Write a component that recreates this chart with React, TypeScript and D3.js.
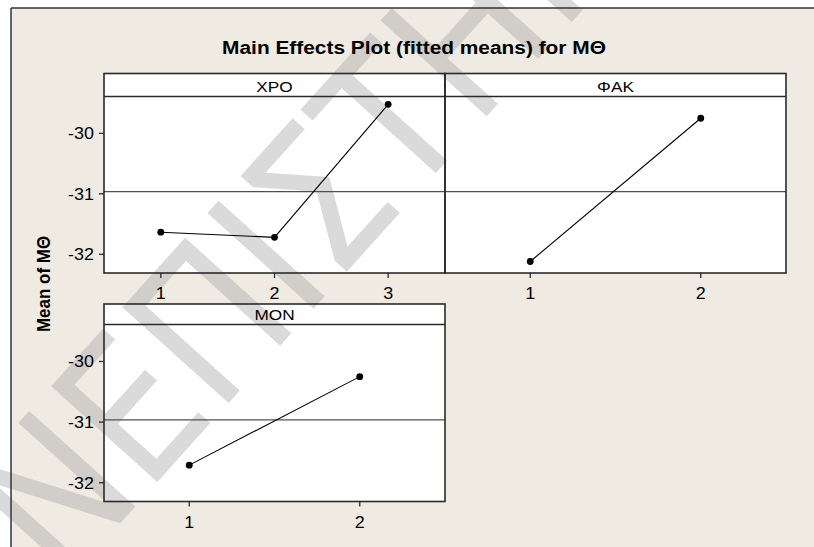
import React from "react";
import * as d3 from "d3";

const title = "Main Effects Plot (fitted means) for MΘ";
const yAxisLabel = "Mean of MΘ";
const watermark = "ΝΕΠΙΣΤΗΜΙΟ";

const xpoLevels = [1, 2, 3];
const xpoMeans = [-31.635, -31.72, -29.52];
const fakLevels = [1, 2];
const fakMeans = [-32.12, -29.75];
const monLevels = [1, 2];
const monMeans = [-31.71, -30.25];
const yTicks = [-30, -31, -32];
const overallMean = -30.965;
const yDomain = [-32.31, -29.39];

const FONT = "'Liberation Sans', Arial, Helvetica, sans-serif";
const SX = 1.15;

type PanelSpec = {
  name: string;
  levels: number[];
  means: number[];
  x0: number;
  x1: number;
  top: number;
  headerBottom: number;
  bottom: number;
  showY: boolean;
};

const panels: PanelSpec[] = [
  { name: "XPO", levels: xpoLevels, means: xpoMeans, x0: 104, x1: 445, top: 73.5, headerBottom: 96.5, bottom: 273, showY: true },
  { name: "ΦAK", levels: fakLevels, means: fakMeans, x0: 445, x1: 786, top: 73.5, headerBottom: 96.5, bottom: 273, showY: false },
  { name: "MON", levels: monLevels, means: monMeans, x0: 104, x1: 445, top: 304, headerBottom: 324.5, bottom: 501.5, showY: true },
];

function SText(props: { x: number; y: number; size: number; anchor?: string; bold?: boolean; sx?: number; rotate?: number; children: React.ReactNode; fill?: string }) {
  const { x, y, size, anchor = "start", bold = false, sx = SX, rotate = 0, children, fill = "#000" } = props;
  return (
    <text
      transform={`translate(${x},${y}) scale(${sx},1)${rotate ? ` rotate(${rotate})` : ""}`}
      fontFamily={FONT}
      fontSize={size}
      fontWeight={bold ? "bold" : "normal"}
      textAnchor={anchor}
      fill={fill}
    >
      {children}
    </text>
  );
}

function PanelFill({ p }: { p: PanelSpec }) {
  return <rect x={p.x0} y={p.top} width={p.x1 - p.x0} height={p.bottom - p.top} fill="#ffffff" />;
}

function Panel({ p }: { p: PanelSpec }) {
  const x = d3.scaleLinear().domain([0.5, p.levels.length + 0.5]).range([p.x0, p.x1]);
  const y = d3.scaleLinear().domain(yDomain).range([p.bottom, p.headerBottom]);
  const pts: [number, number][] = p.levels.map((l, i) => [x(l), y(p.means[i])]);
  const line = d3.line()(pts) || "";
  return (
    <g>
      <line x1={p.x0} x2={p.x1} y1={y(overallMean)} y2={y(overallMean)} stroke="#505050" strokeWidth={1.3} />
      <path d={line} fill="none" stroke="#000" strokeWidth={1.1} />
      {pts.map((pt, i) => (
        <circle key={i} cx={pt[0]} cy={pt[1]} r={3.4} fill="#000" />
      ))}
      <rect x={p.x0} y={p.top} width={p.x1 - p.x0} height={p.bottom - p.top} fill="none" stroke="#2a2a2a" strokeWidth={1.6} />
      <line x1={p.x0} x2={p.x1} y1={p.headerBottom} y2={p.headerBottom} stroke="#2a2a2a" strokeWidth={1.6} />
      <SText x={(p.x0 + p.x1) / 2} y={p.headerBottom - 4.5} size={15} anchor="middle" sx={1.15}>
        {p.name}
      </SText>
      {p.levels.map((l) => (
        <g key={l}>
          <line x1={x(l)} x2={x(l)} y1={p.bottom} y2={p.bottom + 5} stroke="#2a2a2a" strokeWidth={1.3} />
          <SText x={x(l)} y={p.bottom + 26} size={16} anchor="middle" sx={1.12}>
            {String(l)}
          </SText>
        </g>
      ))}
      {p.showY &&
        yTicks.map((t) => (
          <g key={t}>
            <line x1={p.x0 - 5} x2={p.x0} y1={y(t)} y2={y(t)} stroke="#2a2a2a" strokeWidth={1.3} />
            <SText x={p.x0 - 10} y={y(t) + 5.8} size={16} anchor="end" sx={1.12}>
              {String(t)}
            </SText>
          </g>
        ))}
    </g>
  );
}

export default function App() {
  const W = 814;
  const H = 547;
  return (
    <svg width={W} height={H} style={{ position: "absolute", left: 0, top: 0, display: "block" }}>
      <rect x={0} y={0} width={W} height={H} fill="#ffffff" />
      <rect x={11} y={8} width={W} height={H} fill="#efebe2" />
      {panels.map((p) => (
        <PanelFill key={p.name} p={p} />
      ))}
      <text
        transform="translate(62,588) rotate(-48) scale(0.86,1)"
        fontFamily="'DejaVu Sans', sans-serif"
        fontSize={196}
        fill="#a8a8a8"
        opacity={0.42}
      >
        {watermark}
      </text>
      <line x1={11} x2={W} y1={8} y2={8} stroke="#333" strokeWidth={1.5} />
      <line x1={11} x2={11} y1={8} y2={H} stroke="#333" strokeWidth={1.5} />
      <SText x={414} y={54} size={18} anchor="middle" bold sx={1.16}>
        {title}
      </SText>
      <SText x={50} y={284} size={17} anchor="middle" bold sx={1.12} rotate={-90}>
        {yAxisLabel}
      </SText>
      {panels.map((p) => (
        <Panel key={p.name} p={p} />
      ))}
    </svg>
  );
}
